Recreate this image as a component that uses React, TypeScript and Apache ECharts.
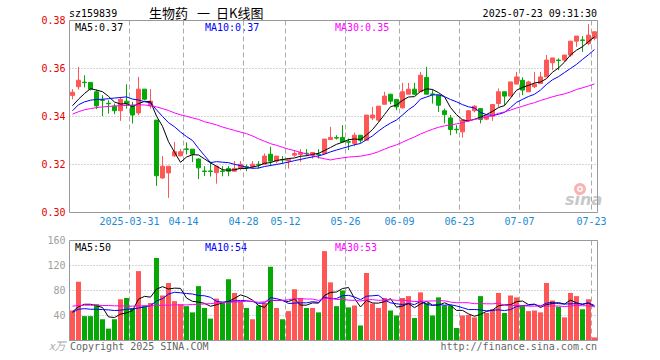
import React, { useEffect, useRef } from "react";
import * as echarts from "echarts";

// ---------- data ----------
const dates = [
  "2025-03-17","2025-03-18","2025-03-19","2025-03-20","2025-03-21","2025-03-24","2025-03-25","2025-03-26","2025-03-27","2025-03-28",
  "2025-03-31","2025-04-01","2025-04-02","2025-04-03","2025-04-07","2025-04-08","2025-04-09","2025-04-10","2025-04-11","2025-04-14",
  "2025-04-15","2025-04-16","2025-04-17","2025-04-18","2025-04-21","2025-04-22","2025-04-23","2025-04-24","2025-04-25","2025-04-28",
  "2025-04-29","2025-04-30","2025-05-06","2025-05-07","2025-05-08","2025-05-09","2025-05-12","2025-05-13","2025-05-14","2025-05-15",
  "2025-05-16","2025-05-19","2025-05-20","2025-05-21","2025-05-22","2025-05-23","2025-05-26","2025-05-27","2025-05-28","2025-05-29",
  "2025-05-30","2025-06-03","2025-06-04","2025-06-05","2025-06-06","2025-06-09","2025-06-10","2025-06-11","2025-06-12","2025-06-13",
  "2025-06-16","2025-06-17","2025-06-18","2025-06-19","2025-06-20","2025-06-23","2025-06-24","2025-06-25","2025-06-26","2025-06-27",
  "2025-06-30","2025-07-01","2025-07-02","2025-07-03","2025-07-04","2025-07-07","2025-07-08","2025-07-09","2025-07-10","2025-07-11",
  "2025-07-14","2025-07-15","2025-07-16","2025-07-17","2025-07-18","2025-07-21","2025-07-22","2025-07-23",
];

const labelDates = ["2025-03-31","2025-04-14","2025-04-28","2025-05-12","2025-05-26","2025-06-09","2025-06-23","2025-07-07","2025-07-23"];

const opens = [
  0.3488,0.3524,0.3543,0.3542,0.3503,0.3469,0.3455,0.3443,0.3424,0.3464,
  0.3447,0.3415,0.3514,0.3444,0.3385,0.3144,0.3165,0.3236,0.3236,0.3265,
  0.3264,0.3223,0.3173,0.3173,0.3166,0.3173,0.3183,0.3172,0.3183,0.3191,
  0.3190,0.3201,0.3201,0.3243,0.3214,0.3221,0.3215,0.3239,0.3242,0.3247,
  0.3239,0.3243,0.3246,0.3304,0.3312,0.3313,0.3295,0.3288,0.3322,0.3301,
  0.3394,0.3385,0.3451,0.3493,0.3471,0.3436,0.3493,0.3514,0.3503,0.3563,
  0.3494,0.3489,0.3424,0.3394,0.3347,0.3336,0.3385,0.3424,0.3433,0.3389,
  0.3401,0.3454,0.3503,0.3485,0.3535,0.3551,0.3503,0.3524,0.3537,0.3565,
  0.3624,0.3635,0.3635,0.3656,0.3714,0.3719,0.3704,0.3726,
];
const closes = [
  0.3501,0.3551,0.3541,0.3514,0.3444,0.3467,0.3453,0.3424,0.3471,0.3453,
  0.3406,0.3514,0.3472,0.3464,0.3153,0.3193,0.3193,0.3253,0.3253,0.3263,
  0.3243,0.3186,0.3171,0.3171,0.3193,0.3171,0.3172,0.3183,0.3201,0.3190,
  0.3201,0.3199,0.3235,0.3214,0.3235,0.3219,0.3222,0.3246,0.3250,0.3245,
  0.3250,0.3241,0.3306,0.3313,0.3310,0.3294,0.3293,0.3322,0.3301,0.3406,
  0.3406,0.3443,0.3485,0.3464,0.3440,0.3503,0.3514,0.3493,0.3572,0.3493,
  0.3492,0.3447,0.3408,0.3346,0.3345,0.3385,0.3424,0.3443,0.3388,0.3402,
  0.3450,0.3503,0.3485,0.3544,0.3565,0.3510,0.3544,0.3535,0.3565,0.3635,
  0.3644,0.3633,0.3656,0.3714,0.3735,0.3717,0.3739,0.3753,
];
const lows = [
  0.3472,0.3512,0.3521,0.3508,0.3431,0.3402,0.3412,0.3410,0.3382,0.3433,
  0.3371,0.3406,0.3468,0.3433,0.3111,0.3140,0.3061,0.3232,0.3234,0.3242,
  0.3210,0.3139,0.3152,0.3150,0.3120,0.3151,0.3151,0.3172,0.3176,0.3172,
  0.3183,0.3183,0.3201,0.3193,0.3204,0.3204,0.3183,0.3232,0.3211,0.3236,
  0.3225,0.3225,0.3242,0.3304,0.3304,0.3294,0.3260,0.3276,0.3290,0.3301,
  0.3385,0.3378,0.3451,0.3451,0.3426,0.3433,0.3493,0.3489,0.3503,0.3493,
  0.3454,0.3419,0.3371,0.3322,0.3329,0.3312,0.3378,0.3417,0.3371,0.3385,
  0.3382,0.3440,0.3447,0.3485,0.3535,0.3489,0.3503,0.3519,0.3537,0.3565,
  0.3593,0.3593,0.3628,0.3649,0.3690,0.3669,0.3697,0.3717,
];
const highs = [
  0.3514,0.3607,0.3572,0.3544,0.3512,0.3489,0.3468,0.3454,0.3482,0.3534,
  0.3461,0.3565,0.3514,0.3514,0.3385,0.3235,0.3193,0.3294,0.3264,0.3292,
  0.3264,0.3225,0.3193,0.3212,0.3193,0.3193,0.3193,0.3214,0.3214,0.3200,
  0.3214,0.3214,0.3246,0.3274,0.3235,0.3235,0.3225,0.3260,0.3264,0.3264,
  0.3250,0.3264,0.3306,0.3357,0.3322,0.3364,0.3308,0.3333,0.3322,0.3406,
  0.3440,0.3443,0.3503,0.3493,0.3471,0.3540,0.3540,0.3540,0.3586,0.3607,
  0.3513,0.3489,0.3433,0.3406,0.3364,0.3385,0.3424,0.3447,0.3433,0.3408,
  0.3450,0.3517,0.3503,0.3544,0.3586,0.3563,0.3549,0.3586,0.3586,0.3656,
  0.3644,0.3642,0.3656,0.3714,0.3735,0.3735,0.3785,0.3753,
];

// volume in 万 (10k) units
const volumes = [
  48,94,39,39,58,34,19,34,66,68,
  52,111,56,60,132,72,92,63,58,55,
  45,87,52,35,67,61,98,76,63,52,
  34,56,60,118,52,34,47,82,68,52,
  52,45,143,93,55,80,53,56,24,108,
  59,52,68,48,40,68,71,36,77,60,
  40,69,56,56,20,40,41,37,71,44,
  50,76,44,72,69,55,47,48,45,92,
  64,54,37,76,71,50,66,5,
];

// moving-average values before enough history is visible
const priceMa5Head = [0.3445, 0.3472, 0.3496, 0.3516];
const priceMa10Head = [0.3424, 0.3449, 0.3461, 0.3468, 0.3471, 0.3472, 0.3474, 0.3477, 0.3479];
const priceMa30Head = [
  0.3410,0.3420,0.3428,0.3433,0.3437,0.3440,0.3442,0.3444,0.3445,0.3446,
  0.3447,0.3449,0.3448,0.3445,0.3440,0.3433,0.3425,0.3415,0.3407,0.3401,
  0.3394,0.3388,0.3378,0.3372,0.3365,0.3356,0.3349,0.3342,0.3335,
];
const volMa5Head = [46, 54, 58, 58];
const volMa10Head = [45, 50, 51, 50, 50, 49.5, 49, 48, 48.5];
const volMa30Head = [
  55,56,56.5,56.5,56.5,56,56,55.5,55.5,55,
  55,55,55.5,55.5,56,56.5,56.5,57,57,57,
  57.5,58,58.5,59,60,60.5,61,61.5,62,
];

const priceYTicks = { min: 0.30, max: 0.38, step: 0.02 };
const volYTicks = { min: 0, max: 160, step: 40 };

// ---------- helpers ----------
function movingAverage(values: number[], n: number, head: number[]): number[] {
  return values.map((_, i) => {
    if (i < n - 1) return head[i];
    let s = 0;
    for (let k = i - n + 1; k <= i; k++) s += values[k];
    return s / n;
  });
}

const RED = "#ff5656";
const GREEN = "#05a805";
const MONO = "'DejaVu Sans Mono', 'Liberation Mono', monospace";
const CJK = "'Noto Sans CJK SC', sans-serif";

export default function App() {
  const ref = useRef<HTMLDivElement>(null);

  useEffect(() => {
    document.body.style.margin = "0";
    if (!ref.current) return;
    const chart = echarts.init(ref.current, undefined, { renderer: "svg" });

    const labelSet = new Set(labelDates.map((d) => dates.indexOf(d)));
    const showIdx = (idx: number) => labelSet.has(idx);

    const candleData = dates.map((_, i) => [opens[i], closes[i], lows[i], highs[i]]);
    const volData = volumes.map((v, i) => ({
      value: v,
      itemStyle: { color: closes[i] >= opens[i] ? RED : GREEN },
    }));

    const pMa5 = movingAverage(closes, 5, priceMa5Head);
    const pMa10 = movingAverage(closes, 10, priceMa10Head);
    const pMa30 = movingAverage(closes, 30, priceMa30Head);
    const vMa5 = movingAverage(volumes, 5, volMa5Head);
    const vMa10 = movingAverage(volumes, 10, volMa10Head);
    const vMa30 = movingAverage(volumes, 30, volMa30Head);

    const dashed = { show: true, interval: showIdx, lineStyle: { color: "#aaaaaa", type: [5, 3], width: 1 } };
    const dotted = { show: true, lineStyle: { color: "#aaaaaa", type: [1, 2], width: 1 } };

    const txt = (text: string, x: number, y: number, fill: string, font: string, align = "left") => ({
      type: "text",
      x,
      y,
      silent: true,
      style: { text, fill, font, align, verticalAlign: "middle", textAlign: align, textVerticalAlign: "middle" },
    });

    const lineSeries = (data: number[], color: string, xi: number) => ({
      type: "line",
      xAxisIndex: xi,
      yAxisIndex: xi,
      data,
      symbol: "none",
      silent: true,
      lineStyle: { color, width: 1 },
      z: 3,
    });

    chart.setOption({
      animation: false,
      grid: [
        { left: 69.5, top: 20.5, width: 528, height: 192, show: false },
        { left: 69.5, top: 240.5, width: 528, height: 100, show: false },
      ],
      xAxis: [
        {
          type: "category",
          gridIndex: 0,
          data: dates,
          boundaryGap: true,
          axisLine: { show: false },
          axisTick: { show: false },
          axisLabel: {
            interval: showIdx,
            color: "#1a8ad4",
            fontFamily: MONO,
            fontSize: 10,
            margin: 4,
            padding: [0, 6, 0, 0],
            formatter: (v: string) => (v === labelDates[0] ? v : v.slice(5)),
          },
          splitLine: dashed,
        },
        {
          type: "category",
          gridIndex: 1,
          data: dates,
          boundaryGap: true,
          axisLine: { show: false },
          axisTick: { show: false },
          axisLabel: { show: false },
          splitLine: dashed,
        },
      ],
      yAxis: [
        {
          type: "value",
          gridIndex: 0,
          min: priceYTicks.min,
          max: priceYTicks.max,
          interval: priceYTicks.step,
          axisLine: { show: false },
          axisTick: { show: false },
          axisLabel: { color: "#e60000", fontFamily: MONO, fontSize: 10, margin: 4, formatter: (v: number) => v.toFixed(2) },
          splitLine: dotted,
        },
        {
          type: "value",
          gridIndex: 1,
          min: volYTicks.min,
          max: volYTicks.max,
          interval: volYTicks.step,
          axisLine: { show: false },
          axisTick: { show: false },
          axisLabel: { color: "#a0a0a0", fontFamily: MONO, fontSize: 10, margin: 4, formatter: (v: number) => (v === 0 ? "" : String(v)) },
          splitLine: dotted,
        },
      ],
      series: [
        {
          type: "candlestick",
          xAxisIndex: 0,
          yAxisIndex: 0,
          data: candleData,
          barWidth: 4,
          silent: true,
          itemStyle: { color: RED, color0: GREEN, borderColor: RED, borderColor0: GREEN, borderWidth: 1 },
          z: 2,
        },
        lineSeries(pMa5, "#000000", 0),
        lineSeries(pMa10, "#0000ff", 0),
        lineSeries(pMa30, "#ff00ff", 0),
        {
          type: "bar",
          xAxisIndex: 1,
          yAxisIndex: 1,
          data: volData,
          barWidth: 5,
          silent: true,
          z: 2,
        },
        lineSeries(vMa5, "#000000", 1),
        lineSeries(vMa10, "#0000ff", 1),
        lineSeries(vMa30, "#ff00ff", 1),
      ],
      graphic: [
        // panel frames
        { type: "rect", silent: true, z: 10, shape: { x: 69.5, y: 20.5, width: 528, height: 192 }, style: { fill: "none", stroke: "#999999", lineWidth: 1 } },
        { type: "rect", silent: true, z: 10, shape: { x: 69.5, y: 240.5, width: 528, height: 100 }, style: { fill: "none", stroke: "#999999", lineWidth: 1 } },
        // header
        txt("sz159839", 69, 13, "#000000", `10px ${MONO}`),
        txt("生物药", 149, 12, "#000000", `13px ${CJK}`),
        txt("一", 197, 12, "#000000", `13px ${CJK}`),
        txt("日K线图", 216, 12, "#000000", `13px ${CJK}`),
        txt("2025-07-23 09:31:30", 597, 13, "#000000", `10px ${MONO}`, "right"),
        // price MA legend
        txt("MA5:0.37", 75, 27, "#000000", `10px ${MONO}`),
        txt("MA10:0.37", 205, 27, "#0000ff", `10px ${MONO}`),
        txt("MA30:0.35", 335, 27, "#ff00ff", `10px ${MONO}`),
        // volume MA legend
        txt("MA5:50", 75, 247, "#000000", `10px ${MONO}`),
        txt("MA10:54", 205, 247, "#0000ff", `10px ${MONO}`),
        txt("MA30:53", 335, 247, "#ff00ff", `10px ${MONO}`),
        // footer
        txt("x万", 49, 345, "#aaaaaa", `italic 11px ${CJK}`),
        txt("Copyright 2025 SINA.COM", 70, 346, "#666666", `10px ${MONO}`),
        txt("http://finance.sina.com.cn", 597, 346, "#666666", `10px ${MONO}`, "right"),
        // sina watermark
        { type: "ring", silent: true, z: 5, shape: { cx: 580, cy: 189, r: 6, r0: 3 }, style: { fill: "#f6b4b4" } },
        { type: "circle", silent: true, z: 5, shape: { cx: 580, cy: 189, r: 1.5 }, style: { fill: "#f6b4b4" } },
        txt("sina", 565, 199, "#c8c8c8", "italic bold 16px 'DejaVu Sans', sans-serif"),
      ],
    });

    return () => chart.dispose();
  }, []);

  return <div ref={ref} style={{ width: 660, height: 360 }} />;
}
